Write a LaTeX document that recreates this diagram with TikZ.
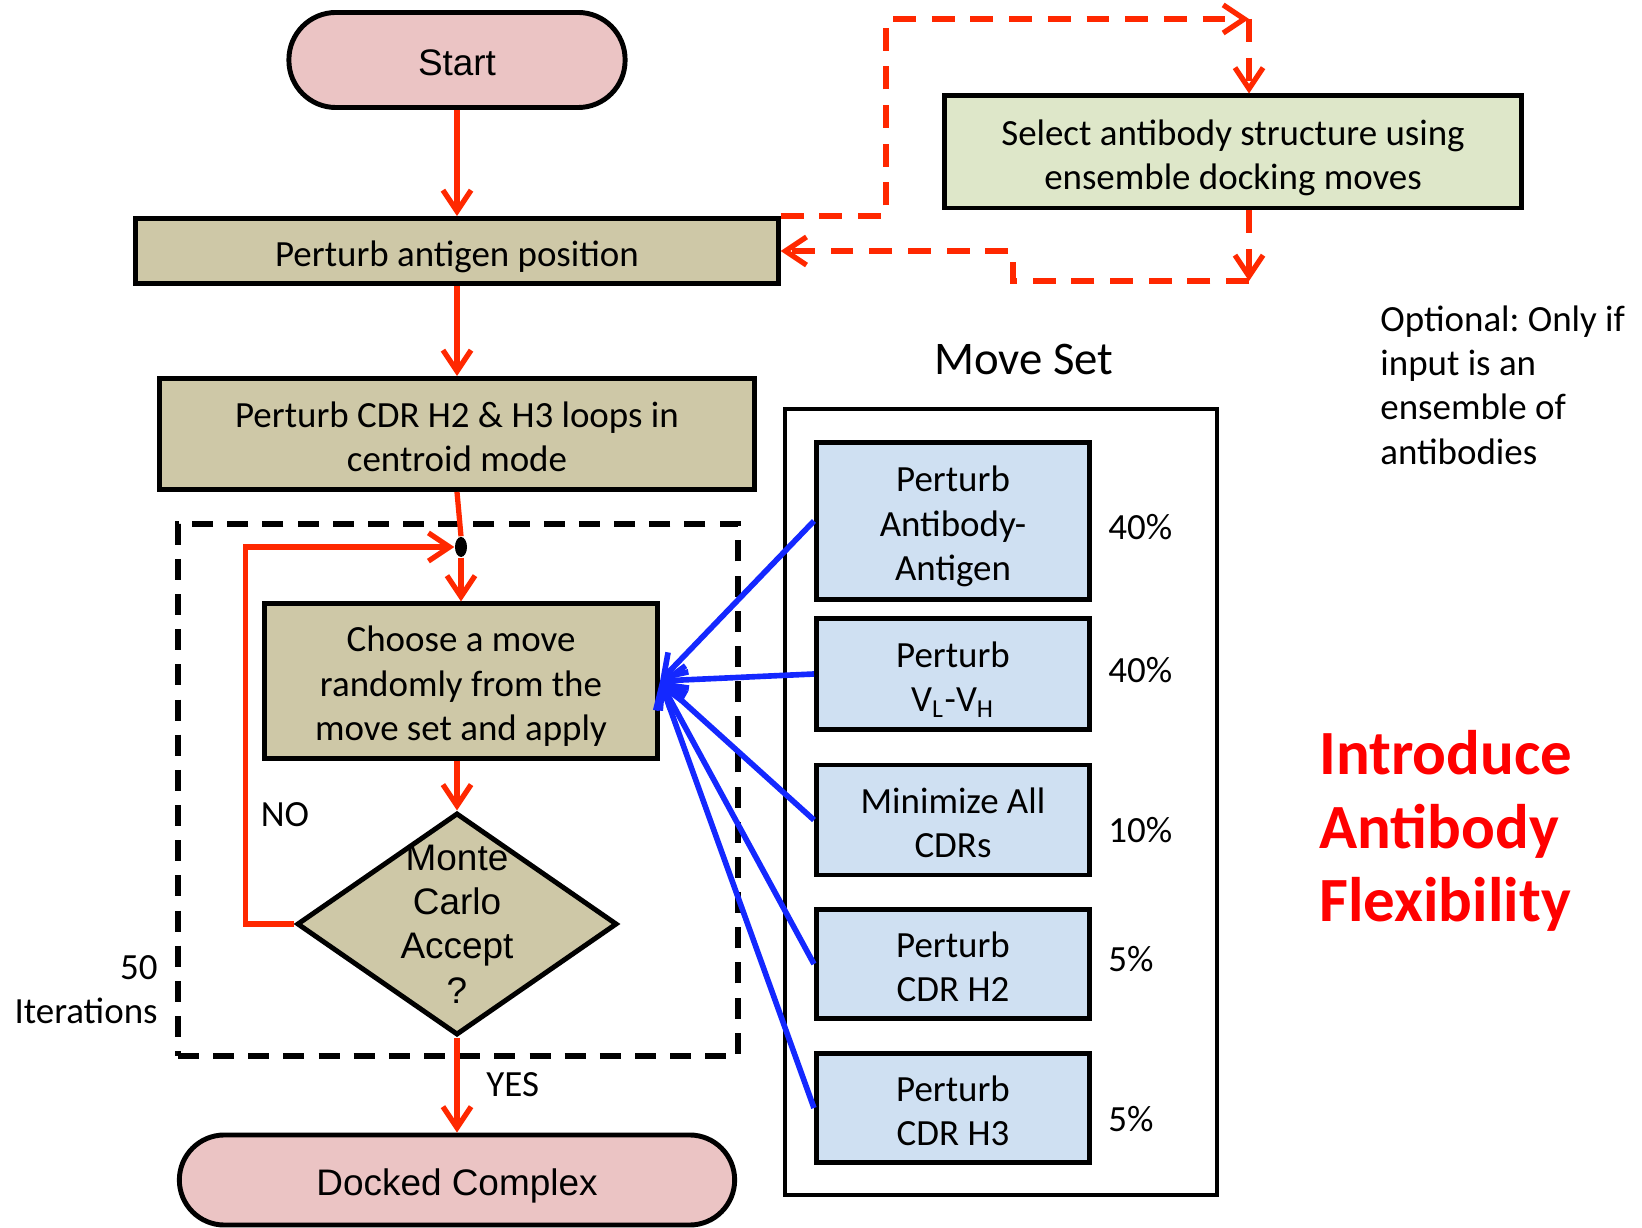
\documentclass[tikz,border=0pt]{standalone}
\usepackage{fontspec}
\setmainfont{Carlito}
\newfontfamily\arialfont{Liberation Sans}
\usetikzlibrary{arrows.meta,shapes.geometric}
\frenchspacing
\definecolor{boxtan}{RGB}{206,200,167}
\definecolor{boxpink}{RGB}{235,196,196}
\definecolor{boxgreen}{RGB}{222,231,201}
\definecolor{boxblue}{RGB}{207,224,242}
\definecolor{flowred}{RGB}{255,40,0}
\definecolor{moveblue}{RGB}{20,40,255}
\newcommand{\lowtext}[1]{\raisebox{-1.8pt}[\height][\depth]{\begin{tabular}{@{}c@{}}#1\end{tabular}}}
\tikzset{
	body/.style={font=\fontsize{10.5}{12.6}\selectfont},
	arial/.style={font=\arialfont\fontsize{10.5}{12.6}\selectfont},
	stepbox/.style={draw,line width=1.4pt,fill=boxtan,align=center,inner sep=0pt,body},
	terminal/.style={draw,line width=1.4pt,fill=boxpink,inner sep=0pt,arial},
	movebox/.style={draw,line width=1.4pt,fill=boxblue,align=center,inner sep=0pt,minimum width=2.73cm,body},
	redarrow/.style={draw=flowred,line width=1.5pt,-{Straight Barb[length=6pt,width=8pt]}},
	redline/.style={draw=flowred,line width=1.5pt},
	reddash/.style={redarrow,dash pattern=on 6.5pt off 4.5pt},
	bluearrow/.style={draw=moveblue,line width=1.6pt,-{Straight Barb[length=6pt,width=8pt]}},
	pct/.style={anchor=west,body},
}
\begin{document}
\begin{tikzpicture}[x=0.01cm,y=-0.01cm]
	\useasboundingbox (0,0) rectangle (1642,1228);
	% main flow
	\node[terminal,rounded corners=4.7mm,minimum width=3.36cm,minimum height=0.95cm] (start) at (457,60) {\lowtext{Start}};
	\node[stepbox,minimum width=6.42cm,minimum height=0.65cm] (antigen) at (457,251) {\lowtext{Perturb antigen position}};
	\node[stepbox,minimum width=5.94cm,minimum height=1.11cm] (cdr) at (457,434) {\lowtext{Perturb CDR H2 \& H3 loops in\\centroid mode}};
	\node[fill,ellipse,minimum width=0.12cm,minimum height=0.2cm,inner sep=0pt] (join) at (461,547) {};
	\node[stepbox,minimum width=3.93cm,minimum height=1.54cm] (choose) at (461,681) {\lowtext{Choose a move\\randomly from the\\move set and apply}};
	\node[diamond,draw,line width=1.4pt,fill=boxtan,minimum width=3.2cm,minimum height=2.22cm,inner sep=0pt] (mc) at (457,924) {};
	\node[arial,align=center] (mctext) at (mc) {Monte\\Carlo\\Accept\\?};
	\node[terminal,rounded corners=4.5mm,minimum width=5.55cm,minimum height=0.9cm] (docked) at (457,1180) {\lowtext{Docked Complex}};
	\node[draw,line width=1.6pt,dash pattern=on 6pt off 4pt,minimum width=5.6cm,minimum height=5.32cm] (loop) at (458,790) {};
	\node[body,align=right,anchor=east] (iter) at (170,990) {50\\Iterations};
	\node[body] (no) at (285,815) {NO};

	\draw[redarrow] (start) -- (antigen);
	\draw[redarrow] (antigen) -- (cdr);
	\draw[redline] (cdr.south) -- (join.north);
	\draw[redarrow] (join.south) -- (choose.north);
	\draw[redarrow] (mc.north |- choose.south) -- (mc.north);
	\draw[redarrow] (mc.west) -- ++(-49,0) |- (join.west);
	\draw[redarrow] (mc.south) -- (docked.north) node[midway, right, xshift=1.5mm, body] {YES};

	% ensemble option
	\node[draw,line width=1.4pt,fill=boxgreen,align=center,body,minimum width=5.76cm,minimum height=1.11cm] (select) at (1233,152) {\lowtext{Select antibody structure using\\ensemble docking moves}};
	\coordinate (tr) at (1249,19);
	\coordinate (br) at (1249,281);
	\draw[reddash] (antigen.north east) -| (886,19) -- (tr);
	\draw[reddash] (tr) -- (tr |- select.north);
	\draw[reddash] (tr |- select.south) -- (br);
	\draw[reddash] (br) -- (1013,281) -- (1013,251) -- (antigen.east);
	\node[body,align=left,anchor=west] (optional) at (1368,385) {Optional: Only if\\input is an\\ensemble of\\antibodies};

	% move set
	\node[draw,line width=1.2pt,minimum width=4.32cm,minimum height=7.85cm] (moveset) at (1001,802) {};
	\node[font=\fontsize{13.3}{16}\selectfont] (title) at (1024,360) {Move Set};
	\node[movebox,minimum height=1.56cm] (m1) at (953,521) {\lowtext{Perturb\\Antibody-\\Antigen}};
	\node[movebox,minimum height=1.11cm] (m2) at (953,674) {\lowtext{Perturb\\V\textsubscript{L}-V\textsubscript{H}}};
	\node[movebox,minimum height=1.10cm] (m3) at (953,820) {\lowtext{Minimize All\\CDRs}};
	\node[movebox,minimum height=1.09cm] (m4) at (953,964) {\lowtext{Perturb\\CDR H2}};
	\node[movebox,minimum height=1.09cm] (m5) at (953,1108) {\lowtext{Perturb\\CDR H3}};
	\node[pct] (p1) at (1096,527) {40\%};
	\node[pct] (p2) at (1096,670) {40\%};
	\node[pct] (p3) at (1096,830) {10\%};
	\node[pct] (p4) at (1096,959) {5\%};
	\node[pct] (p5) at (1096,1119) {5\%};
	\foreach \m in {m1,m2,m3,m4,m5}
		\draw[bluearrow] (\m.west) -- (choose.east);

	\node[anchor=west,align=left,text=red,font=\bfseries\fontsize{17.9}{21}\selectfont] (flex) at (1307,831) {Introduce\\Antibody\\Flexibility};
\end{tikzpicture}
\end{document}
